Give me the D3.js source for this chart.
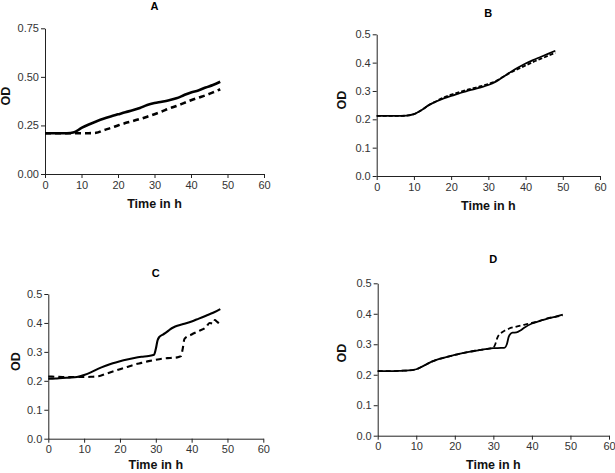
<!DOCTYPE html>
<html><head><meta charset="utf-8">
<script src="https://cdn.jsdelivr.net/npm/d3@7"></script>
<style>body{margin:0;background:#fff}svg{display:block}text{font-family:"Liberation Sans",Arial,sans-serif}</style>
</head><body>
<svg id="c" width="615" height="473"></svg>
<script>
// ---- data ----
const panelTitles = ["A", "B", "C", "D"];
const xTicks = [0, 10, 20, 30, 40, 50, 60];
const yTicksA = [0, 0.25, 0.5, 0.75];
const yTicksBCD = [0, 0.1, 0.2, 0.3, 0.4, 0.5];
const xLabel = "Time in h";
const yLabel = "OD";

const tA = [0,2,4,6,8,10,12,14,16,18,20,22,24,26,28,30,32,34,36,38,40,42,44,46,48];
const aSolid = [0.21,0.21,0.21,0.21,0.215,0.237,0.255,0.27,0.284,0.296,0.307,0.318,0.328,0.34,0.355,0.365,0.372,0.38,0.39,0.405,0.42,0.43,0.445,0.458,0.475];
const aDashed = [0.21,0.21,0.21,0.21,0.21,0.21,0.21,0.212,0.225,0.237,0.25,0.262,0.272,0.283,0.295,0.308,0.322,0.337,0.35,0.365,0.38,0.393,0.405,0.42,0.436];

const tB = [0,2,4,6,8,10,12,14,16,18,20,22,24,26,28,30,32,34,36,38,40,42,44,46,48];
const bSolid = [0.212,0.212,0.212,0.212,0.213,0.218,0.232,0.25,0.263,0.274,0.283,0.291,0.299,0.306,0.313,0.321,0.333,0.35,0.367,0.383,0.397,0.409,0.42,0.431,0.442];
const bDashed = [0.212,0.212,0.212,0.212,0.213,0.218,0.232,0.25,0.264,0.277,0.287,0.295,0.303,0.31,0.317,0.325,0.335,0.35,0.365,0.378,0.39,0.402,0.413,0.424,0.435];

const tCsolid = [0,2,4,6,8,10,12,14,16,18,20,22,24,26,28,29.5,30,30.5,31,32,33,34,35,36,38,40,42,44,46,48];
const cSolid = [0.207,0.208,0.21,0.211,0.213,0.22,0.23,0.242,0.252,0.261,0.268,0.274,0.279,0.283,0.286,0.29,0.31,0.34,0.352,0.36,0.368,0.378,0.385,0.39,0.397,0.405,0.415,0.425,0.435,0.448];
const tCdashed = [0,2,4,6,8,10,12,14,16,18,20,22,24,26,28,30,32,34,36,37,37.5,38,40,42,44,45,46,46.5,47,48];
const cDashed = [0.215,0.214,0.213,0.213,0.213,0.213,0.214,0.216,0.224,0.232,0.24,0.248,0.256,0.262,0.268,0.273,0.277,0.279,0.281,0.285,0.31,0.345,0.36,0.372,0.385,0.4,0.398,0.41,0.405,0.395];

const tDsolid = [0,2,4,6,8,10,12,14,16,18,20,22,24,26,28,30,32,33,33.5,34,34.5,35,36,37,38,40,42,44,46,48];
const dSolid = [0.212,0.212,0.212,0.213,0.214,0.218,0.23,0.243,0.252,0.259,0.265,0.271,0.276,0.28,0.284,0.287,0.288,0.289,0.3,0.325,0.335,0.338,0.339,0.345,0.354,0.368,0.376,0.384,0.39,0.397];
const tDdashed = [0,2,4,6,8,10,12,14,16,18,20,22,24,26,28,30,30.5,31,31.5,32,33,34,36,38,40,42,44,46,48];
const dDashed = [0.212,0.212,0.212,0.213,0.214,0.218,0.23,0.243,0.252,0.259,0.265,0.271,0.276,0.28,0.284,0.289,0.3,0.32,0.332,0.337,0.345,0.351,0.358,0.364,0.37,0.377,0.385,0.39,0.395];

// ---- layout ----
const panels = [
  {title:panelTitles[0], x0:45, x1:264, yTop:28.3, yBot:174, yMax:0.75, yTicks:yTicksA, fmt:d3.format(".2f"),
   titleY:10, xlabY:208, odX:6, odY:96, lw:2.6, dash:"6,4",
   series:[{t:tA,v:aSolid,dash:false},{t:tA,v:aDashed,dash:true}]},
  {title:panelTitles[1], x0:376.7, x1:600, yTop:34.3, yBot:176, yMax:0.5, yTicks:yTicksBCD, fmt:d3.format(".1f"),
   titleY:17, xlabY:210, odX:342, odY:100, lw:1.8, dash:"4,2",
   series:[{t:tB,v:bDashed,dash:true},{t:tB,v:bSolid,dash:false}]},
  {title:panelTitles[2], x0:48.3, x1:263.3, yTop:294, yBot:438.7, yMax:0.5, yTicks:yTicksBCD, fmt:d3.format(".1f"),
   titleY:277, xlabY:469, odX:15.5, odY:361.7, lw:2.1, dash:"6,4",
   series:[{t:tCsolid,v:cSolid,dash:false},{t:tCdashed,v:cDashed,dash:true}]},
  {title:panelTitles[3], x0:377.7, x1:609, yTop:283.3, yBot:435.7, yMax:0.5, yTicks:yTicksBCD, fmt:d3.format(".1f"),
   titleY:263, xlabY:469, odX:342, odY:353, lw:1.8, dash:"5,3",
   series:[{t:tDsolid,v:dSolid,dash:false},{t:tDdashed,v:dDashed,dash:true}]}
];

const svg = d3.select("#c");
panels.forEach(p => {
  const x = d3.scaleLinear().domain([0,60]).range([p.x0,p.x1]);
  const y = d3.scaleLinear().domain([0,p.yMax]).range([p.yBot,p.yTop]);
  const g = svg.append("g");
  const xa = g.append("g").attr("transform",`translate(0,${p.yBot})`)
    .call(d3.axisBottom(x).tickValues(xTicks).tickSize(4).tickPadding(3).tickSizeOuter(0));
  const ya = g.append("g").attr("transform",`translate(${p.x0},0)`)
    .call(d3.axisLeft(y).tickValues(p.yTicks).tickFormat(p.fmt).tickSize(4).tickPadding(2).tickSizeOuter(0));
  [xa,ya].forEach(a=>{
    a.selectAll("path,line").attr("stroke","#222").attr("stroke-width",1);
    a.selectAll("text").attr("fill","#333").style("font-size","11px").style("font-family","'Liberation Sans',Arial,sans-serif");
  });
  const line = d3.line().x(d=>x(d[0])).y(d=>y(d[1])).curve(d3.curveMonotoneX);
  p.series.forEach(s=>{
    g.append("path").datum(s.t.map((t,i)=>[t,s.v[i]]))
      .attr("d",line).attr("fill","none").attr("stroke","#000")
      .attr("stroke-width",p.lw).attr("stroke-dasharray",s.dash?p.dash:null);
  });
  const cx = (p.x0+p.x1)/2;
  g.append("text").attr("x",cx).attr("y",p.titleY).attr("text-anchor","middle")
    .style("font-size","11px").style("font-weight","bold").text(p.title);
  g.append("text").attr("x",cx).attr("y",p.xlabY).attr("text-anchor","middle")
    .style("font-size","12.5px").style("font-weight","bold").attr("fill","#111").text(xLabel);
  g.append("text").attr("transform",`translate(${p.odX},${p.odY}) rotate(-90)`).attr("text-anchor","middle")
    .attr("dy","0.35em").style("font-size","12.5px").style("font-weight","bold").attr("fill","#111").text(yLabel);
});
</script>
</body></html>
